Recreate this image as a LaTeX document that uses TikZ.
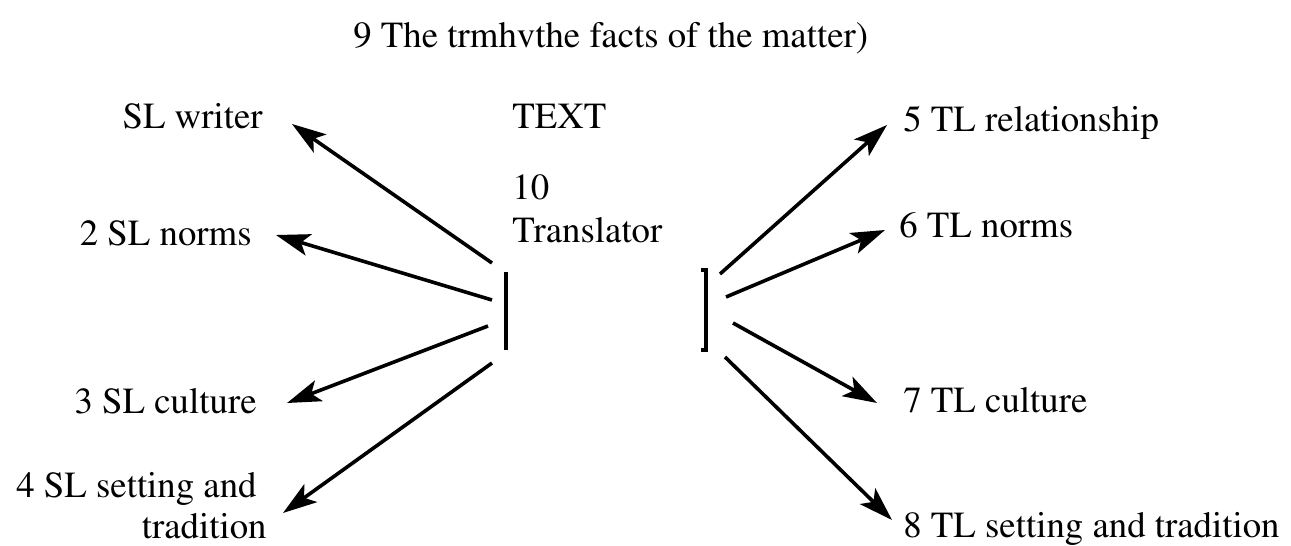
\documentclass[tikz,border=0pt]{standalone}
\usepackage[T1]{fontenc}
\usepackage{times}
\usetikzlibrary{positioning,arrows.meta}

\begin{document}
\begin{tikzpicture}[x=0.5pt, y=-0.5pt,
  lbl/.style={inner sep=0pt, font=\fontsize{18.4}{21.5}\selectfont},
  link/.style={line width=1.8pt, -{Stealth[length=17pt,width=11pt,inset=4pt]}},
  brack/.style={line width=1.8pt}]
\useasboundingbox (0,0) rectangle (1291,546);
\node (facts) [lbl, anchor=base west] at (353,47) {9 The trmhvthe facts of the matter)};
\node (text) [lbl, anchor=base west] at (512,128) {TEXT};
\node (ten) [lbl, anchor=base west] at (512,199) {10};
\node (transl) [lbl, anchor=base west] at (512,242) {Translator};
% source side
\node (slwriter) [lbl, anchor=base east] at (263,128) {SL writer};
\node (slnorms) [lbl, anchor=base east] at (252,245) {2 SL norms};
\node (slcult) [lbl, anchor=base east] at (257,413) {3 SL culture};
\node (slset) [lbl, anchor=base east] at (257,497) {4 SL setting and};
\node (sltrad) [lbl, anchor=base east] at (267,538) {tradition};
% target side
\node (tlrel) [lbl, anchor=base west] at (903,131) {5 TL relationship};
\node (tlnorms) [lbl, anchor=base west] at (899,237) {6 TL norms};
\node (tlcult) [lbl, anchor=base west] at (903,412) {7 TL culture};
\node (tlset) [lbl, anchor=base west] at (903,537) {8 TL setting and tradition};
% brackets
\draw[brack] (506,272) -- (506,350);
\draw[brack] (701,270) -- (706,270) -- (706,350) -- (701,350);
% arrow ends
\coordinate (s1) at (492,263); \coordinate (h1) at (292,124);
\coordinate (s2) at (492,300); \coordinate (h2) at (276,235);
\coordinate (s3) at (488,326); \coordinate (h3) at (287,403);
\coordinate (s4) at (492,363); \coordinate (h4) at (283,513);
\coordinate (t5) at (720,274); \coordinate (h5) at (887,125);
\coordinate (t6) at (726,297); \coordinate (h6) at (885,230);
\coordinate (t7) at (733,323); \coordinate (h7) at (877,403);
\coordinate (t8) at (725,357); \coordinate (h8) at (892,520);
\draw[link] (s1) -- (h1);
\draw[link] (s2) -- (h2);
\draw[link] (s3) -- (h3);
\draw[link] (s4) -- (h4);
\draw[link] (t5) -- (h5);
\draw[link] (t6) -- (h6);
\draw[link] (t7) -- (h7);
\draw[link] (t8) -- (h8);
\end{tikzpicture}
\end{document}
